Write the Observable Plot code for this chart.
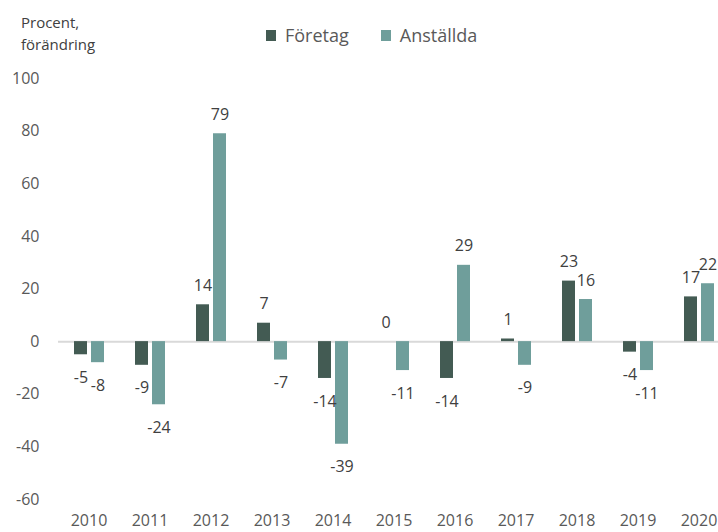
<!DOCTYPE html>
<html>
<head>
<meta charset="utf-8">
<script src="https://cdn.jsdelivr.net/npm/d3@7"></script>
<script src="https://cdn.jsdelivr.net/npm/@observablehq/plot@0.6"></script>
<style>
  html, body { margin: 0; padding: 0; background: #fff; overflow: hidden; }
  body { width: 718px; height: 532px; font-family: "Open Sans", "Noto Sans", sans-serif; }
  #header { position: relative; height: 60px; }
  #title { position: absolute; left: 21px; top: 11px; font-size: 15px; line-height: 22px; color: #404040; }
  #legend { position: absolute; left: 266px; top: 23px; display: flex; align-items: center; font-size: 18px; color: #595959; }
  .item { display: flex; align-items: center; }
  .sw { width: 10px; height: 11px; margin-right: 9px; }
</style>
</head>
<body>
<div id="header">
  <div id="title">Procent,<br>förändring</div>
  <div id="legend"></div>
</div>
<div id="chart"></div>
<script>
const years = ["2010","2011","2012","2013","2014","2015","2016","2017","2018","2019","2020"];
const seriesNames = ["Företag", "Anställda"];
const foretag = [-5, -9, 14, 7, -14, 0, -14, 1, 23, -4, 17];
const anstallda = [-8, -24, 79, -7, -39, -11, 29, -9, 16, -11, 22];
const yTicks = [-60, -40, -20, 0, 20, 40, 60, 80, 100];
const colors = ["#435b53", "#6f9e9b"];

const data = [];
years.forEach((y, i) => {
  data.push({year: y, series: seriesNames[0], value: foretag[i]});
  data.push({year: y, series: seriesNames[1], value: anstallda[i]});
});

// legend
const legend = document.getElementById("legend");
seriesNames.forEach((s, i) => {
  const it = document.createElement("div");
  it.className = "item";
  if (i > 0) it.style.marginLeft = "32px";
  const sw = document.createElement("div");
  sw.className = "sw";
  sw.style.background = colors[i];
  const t = document.createElement("span");
  t.textContent = s;
  it.appendChild(sw); it.appendChild(t);
  legend.appendChild(it);
});

const chart = Plot.plot({
  width: 718,
  height: 472,
  marginLeft: 56,
  marginRight: -13,
  marginTop: 18,
  marginBottom: 33,
  style: {fontFamily: "'Open Sans', 'Noto Sans', sans-serif", fontSize: "16px", background: "#fff"},
  fx: {domain: years, padding: 0, label: null},
  x: {domain: seriesNames, paddingInner: 0.25, paddingOuter: 0.83, axis: null},
  y: {domain: [-60, 100], label: null},
  color: {domain: seriesNames, range: colors},
  marks: [
    Plot.ruleY([0], {stroke: "#d9d9d9", strokeWidth: 2}),
    Plot.barY(data, {fx: "year", x: "series", y: "value", fill: "series"}),
    Plot.text(data.filter(d => d.value >= 0), {fx: "year", x: "series", y: "value", text: d => String(d.value), dy: -19, lineAnchor: "middle", fill: "#404040", fontSize: 16}),
    Plot.text(data.filter(d => d.value < 0), {fx: "year", x: "series", y: "value", text: d => String(d.value), dy: 23, lineAnchor: "middle", fill: "#404040", fontSize: 16}),
    Plot.axisY(yTicks, {tickSize: 0, tickPadding: 19, fill: "#595959", fontSize: 16, label: null, tickFormat: d => String(d)}),
    Plot.axisFx({anchor: "bottom", tickSize: 0, tickPadding: 15, fill: "#595959", fontSize: 16, label: null})
  ]
});
document.getElementById("chart").appendChild(chart);
</script>
</body>
</html>
